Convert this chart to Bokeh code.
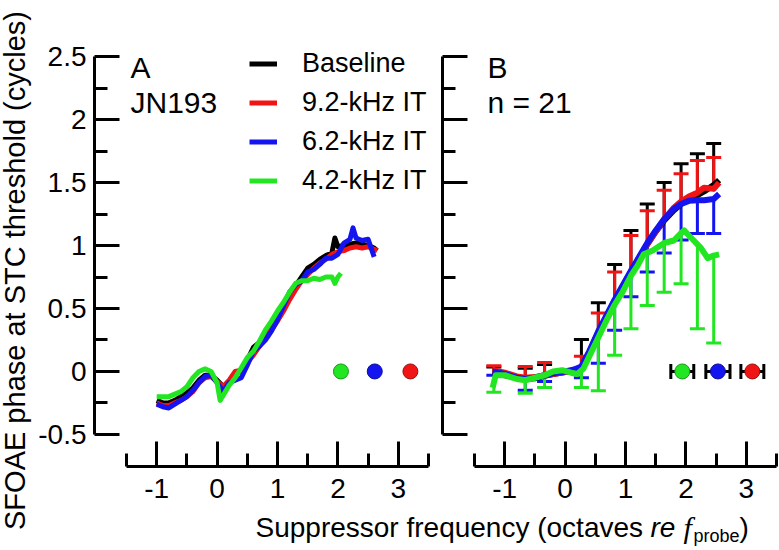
import numpy as np
from math import pi
from bokeh.plotting import figure
from bokeh.models import (Range1d, FixedTicker, Legend, LegendItem, Label,
                          Whisker, TeeHead, ColumnDataSource)
from bokeh.layouts import column, row
from bokeh.embed import file_html
from bokeh.resources import INLINE

# ---------------- data ----------------
SERIES_NAMES = ["Baseline", "9.2-kHz IT", "6.2-kHz IT", "4.2-kHz IT"]

A_base_x = [-1.0, -0.9, -0.8, -0.7, -0.6, -0.5, -0.4, -0.3, -0.2, -0.1, 0.0, 0.1, 0.2, 0.3, 0.4,
            0.5, 0.6, 0.7, 0.8, 0.9, 1.0, 1.1, 1.2, 1.3, 1.4, 1.5, 1.6, 1.7, 1.8, 1.9, 1.95, 2.0,
            2.1, 2.2, 2.3, 2.4, 2.5, 2.6, 2.65]
A_base_y = [-0.23, -0.25, -0.25, -0.23, -0.20, -0.17, -0.13, -0.07, -0.03, -0.03, -0.07, -0.12,
            -0.09, -0.03, 0.01, 0.09, 0.19, 0.23, 0.28, 0.35, 0.43, 0.52, 0.60, 0.68, 0.75, 0.82,
            0.85, 0.89, 0.92, 0.94, 1.06, 0.99, 1.00, 1.01, 1.02, 1.01, 1.00, 0.98, 0.96]

A_red_x = [-1.0, -0.9, -0.8, -0.7, -0.6, -0.5, -0.4, -0.3, -0.2, -0.1, 0.0, 0.1, 0.2, 0.3, 0.4,
           0.5, 0.6, 0.7, 0.8, 0.9, 1.0, 1.1, 1.2, 1.3, 1.4, 1.5, 1.6, 1.7, 1.8, 1.9, 2.0, 2.1,
           2.2, 2.3, 2.4, 2.5, 2.6, 2.65]
A_red_y = [-0.25, -0.27, -0.27, -0.25, -0.23, -0.20, -0.16, -0.09, -0.05, -0.04, -0.08, -0.12,
           -0.07, 0.00, 0.01, 0.07, 0.13, 0.20, 0.27, 0.33, 0.40, 0.48, 0.57, 0.65, 0.72, 0.77,
           0.82, 0.86, 0.89, 0.93, 0.95, 0.96, 0.98, 0.99, 0.98, 0.99, 0.97, 0.96]

A_blue_x = [-1.0, -0.9, -0.8, -0.7, -0.6, -0.5, -0.4, -0.3, -0.2, -0.1, 0.0, 0.1, 0.2, 0.3, 0.4,
            0.5, 0.6, 0.7, 0.8, 0.9, 1.0, 1.1, 1.2, 1.3, 1.4, 1.5, 1.6, 1.7, 1.8, 1.9, 2.0, 2.1,
            2.2, 2.25, 2.3, 2.4, 2.5, 2.6]
A_blue_y = [-0.26, -0.28, -0.29, -0.26, -0.23, -0.20, -0.15, -0.09, -0.04, -0.03, -0.09, -0.16,
            -0.09, -0.07, -0.05, 0.05, 0.16, 0.20, 0.25, 0.32, 0.41, 0.52, 0.63, 0.69, 0.72, 0.79,
            0.81, 0.85, 0.90, 0.90, 0.93, 1.02, 1.05, 1.14, 1.06, 1.04, 1.05, 0.91]

A_green_x = [-1.0, -0.9, -0.8, -0.7, -0.6, -0.5, -0.4, -0.3, -0.2, -0.1, 0.0, 0.05, 0.1, 0.2, 0.3,
             0.4, 0.5, 0.6, 0.7, 0.8, 0.9, 1.0, 1.1, 1.2, 1.3, 1.4, 1.5, 1.6, 1.7, 1.8, 1.9, 1.95,
             2.0, 2.05]
A_green_y = [-0.20, -0.20, -0.20, -0.18, -0.16, -0.12, -0.05, 0.00, 0.02, 0.00, -0.09, -0.23,
             -0.19, -0.11, -0.05, 0.03, 0.11, 0.16, 0.24, 0.33, 0.40, 0.48, 0.55, 0.63, 0.70,
             0.72, 0.72, 0.74, 0.73, 0.75, 0.75, 0.70, 0.75, 0.78]

A_dot_x = [2.05, 2.61, 3.2]
A_dot_y = [0.0, 0.0, 0.0]

B_x = [-1.2, -1.0, -0.8, -0.66, -0.5, -0.34, -0.2, 0.0, 0.15, 0.27, 0.4, 0.55, 0.7, 0.82, 0.95,
       1.09, 1.2, 1.36, 1.5, 1.64, 1.8, 1.92, 2.05, 2.19, 2.3, 2.46, 2.55]
B_base_y = [-0.01, -0.03, -0.05, -0.06, -0.055, -0.035, -0.02, -0.005, 0.01, 0.03, 0.15, 0.31,
            0.45, 0.56, 0.67, 0.79, 0.88, 1.01, 1.11, 1.20, 1.28, 1.33, 1.37, 1.40, 1.43, 1.48, 1.52]
B_red_y = [0.01, -0.01, -0.04, -0.05, -0.045, -0.03, -0.02, -0.005, 0.01, 0.03, 0.15, 0.31,
           0.45, 0.56, 0.67, 0.79, 0.88, 1.01, 1.11, 1.21, 1.30, 1.35, 1.39, 1.42, 1.46, 1.45, 1.50]
B_blue_y = [0.0, -0.02, -0.05, -0.06, -0.05, -0.03, -0.015, 0.0, 0.015, 0.04, 0.16, 0.32,
            0.46, 0.57, 0.68, 0.80, 0.89, 1.02, 1.12, 1.21, 1.29, 1.33, 1.355, 1.36, 1.36, 1.37, 1.41]
B_green_x = [-1.2, -1.15, -1.0, -0.8, -0.66, -0.5, -0.34, -0.2, -0.05, 0.1, 0.2, 0.3, 0.4, 0.55,
             0.7, 0.82, 0.95, 1.09, 1.2, 1.3, 1.45, 1.64, 1.8, 1.92, 1.97, 2.05, 2.13, 2.25, 2.36,
             2.46, 2.55]
B_green_y = [-0.13, -0.03, -0.03, -0.06, -0.07, -0.05, -0.03, 0.0, 0.01, -0.01, -0.02, 0.02,
             0.12, 0.27, 0.42, 0.53, 0.63, 0.76, 0.84, 0.93, 0.96, 1.02, 1.04, 1.10, 1.12, 1.08,
             1.04, 0.98, 0.90, 0.92, 0.93]

B_err_x = [-1.18, -0.66, -0.34, 0.27, 0.55, 0.82, 1.09, 1.36, 1.64, 1.92, 2.19, 2.46]
B_base_err_top = [0.035, 0.025, 0.055, 0.253, 0.545, 0.85, 1.12, 1.33, 1.50, 1.65, 1.73, 1.81]
B_red_err_top = [0.045, 0.04, 0.072, 0.12, 0.465, 0.79, 1.08, 1.277, 1.44, 1.57, 1.676, 1.70]
B_blue_err_bot = [-0.03, -0.15, -0.08, -0.05, 0.066, 0.327, 0.593, 0.79, 0.94, 1.045, 1.096, 1.096]
B_green_err_bot = [-0.165, -0.173, -0.128, -0.128, -0.154, 0.128, 0.34, 0.524, 0.63, 0.697, 0.34, 0.226]

B_dot_x = [1.94, 2.53, 3.1]
B_dot_y = [0.0, 0.0, 0.0]
B_dot_err = [0.19, 0.20, 0.19]

X_TICKS = [-1, 0, 1, 2, 3]
X_TICK_LABELS = ["-1", "0", "1", "2", "3"]
X_MINOR = [-1.5, -0.5, 0.5, 1.5, 2.5, 3.5]
Y_TICKS = [-0.5, 0, 0.5, 1, 1.5, 2, 2.5]
Y_TICK_LABELS = ["-0.5", "0", "0.5", "1", "1.5", "2", "2.5"]
Y_MINOR = [-0.25, 0.25, 0.75, 1.25, 1.75, 2.25]

Y_TITLE = "SFOAE phase at STC threshold (cycles)"

# ---------------- style / geometry ----------------
BLACK, RED, BLUE, GREEN = "#000000", "#f01414", "#1414f0", "#22e622"
DOT_EDGE = ["#159915", "#0c0c99", "#991010"]
FONT = "Liberation Sans"

FW, FH = 337, 454
TOP, BOT = 12, 44
X0 = -2.03
X1 = X0 + FW / 60.4
Y0 = -0.755
Y1 = Y0 + FH / 125.9
YT_W = 34
A_LEFT, A_RIGHT = 60, 7
B_LEFT = 4
XT_H = 36
PANEL_H = TOP + FH + BOT
ROW_W = A_LEFT + FW + A_RIGHT + B_LEFT + FW


def make_panel(min_left, min_right, labels_on_y):
    p = figure(frame_width=FW, frame_height=FH, x_range=Range1d(X0, X1), y_range=Range1d(Y0, Y1),
               output_backend="svg", toolbar_location=None,
               min_border_left=min_left, min_border_right=min_right,
               min_border_top=TOP, min_border_bottom=BOT)
    p.outline_line_color = None
    p.grid.visible = False
    xa, ya = p.xaxis[0], p.yaxis[0]
    for ax in (xa, ya):
        ax.axis_line_width = 3
        ax.axis_line_color = "black"
        ax.major_tick_line_width = 3
        ax.minor_tick_line_width = 3
        ax.major_tick_line_color = "black"
        ax.minor_tick_line_color = "black"
        ax.major_tick_out = 0
        ax.minor_tick_out = 0
        ax.major_tick_in = 25
        ax.minor_tick_in = 13
        ax.major_label_text_font = FONT
        ax.major_label_text_font_size = "28px"
        ax.major_label_text_color = "black"
    xa.ticker = FixedTicker(ticks=X_TICKS, minor_ticks=X_MINOR)
    xa.bounds = (-1.5, 3.5)
    xa.major_label_overrides = {t: s for t, s in zip(X_TICKS, X_TICK_LABELS)}
    xa.major_label_standoff = 12
    ya.ticker = FixedTicker(ticks=Y_TICKS, minor_ticks=Y_MINOR)
    ya.bounds = (-0.5, 2.5)
    if labels_on_y:
        ya.major_label_overrides = {t: s for t, s in zip(Y_TICKS, Y_TICK_LABELS)}
        ya.major_label_standoff = 8
    else:
        ya.major_label_overrides = {t: "" for t in Y_TICKS}
        ya.major_label_standoff = 0
    return p


# ---------------- panel A ----------------
pA = make_panel(A_LEFT, A_RIGHT, True)
rA = []
for xs, ys, c in [(A_base_x, A_base_y, BLACK), (A_red_x, A_red_y, RED),
                  (A_blue_x, A_blue_y, BLUE), (A_green_x, A_green_y, GREEN)]:
    rA.append(pA.line(xs, ys, line_color=c, line_width=5, line_join="round"))

srcAd = ColumnDataSource(dict(x=A_dot_x, y=A_dot_y, fc=[GREEN, BLUE, RED], lc=DOT_EDGE))
pA.scatter("x", "y", source=srcAd, size=15, fill_color="fc", line_color="lc", line_width=1)

leg = Legend(items=[LegendItem(label=n, renderers=[r]) for n, r in zip(SERIES_NAMES, rA)],
             location=(155, 266), orientation="vertical",
             glyph_width=28, glyph_height=39, label_height=39, label_standoff=25,
             spacing=0, padding=0, margin=0,
             border_line_alpha=0, background_fill_alpha=0,
             label_text_font=FONT, label_text_font_size="27px", label_text_color="black")
pA.add_layout(leg)

pA.add_layout(Label(x=36, y=383, x_units="screen", y_units="screen", text="A",
                    text_font=FONT, text_font_size="30px", text_color="black"))
pA.add_layout(Label(x=36, y=348, x_units="screen", y_units="screen", text="JN193",
                    text_font=FONT, text_font_size="30px", text_color="black"))

# ---------------- panel B ----------------
pB = make_panel(B_LEFT, 0, False)


def add_bars(p, xs_line, ys_line, ends, color, up):
    base_vals = np.interp(B_err_x, xs_line, ys_line)
    head = TeeHead(size=15, line_color=color, line_width=3)
    if up:
        src = ColumnDataSource(dict(base=B_err_x, lower=base_vals, upper=ends))
        w = Whisker(source=src, base="base", lower="lower", upper="upper",
                    line_color=color, line_width=3, level="underlay",
                    upper_head=head, lower_head=None)
    else:
        src = ColumnDataSource(dict(base=B_err_x, lower=ends, upper=base_vals))
        w = Whisker(source=src, base="base", lower="lower", upper="upper",
                    line_color=color, line_width=3, level="underlay",
                    lower_head=head, upper_head=None)
    p.add_layout(w)


add_bars(pB, B_x, B_base_y, B_base_err_top, BLACK, True)
add_bars(pB, B_x, B_red_y, B_red_err_top, RED, True)
add_bars(pB, B_x, B_blue_y, B_blue_err_bot, BLUE, False)
add_bars(pB, B_green_x, B_green_y, B_green_err_bot, GREEN, False)

for xs, ys, c in [(B_x, B_base_y, BLACK), (B_x, B_red_y, RED),
                  (B_x, B_blue_y, BLUE), (B_green_x, B_green_y, GREEN)]:
    pB.line(xs, ys, line_color=c, line_width=6, line_join="round")

srcBd = ColumnDataSource(dict(x=B_dot_x, y=B_dot_y,
                              lo=list(np.array(B_dot_x) - np.array(B_dot_err)),
                              hi=list(np.array(B_dot_x) + np.array(B_dot_err)),
                              fc=[GREEN, BLUE, RED], lc=DOT_EDGE))
pB.add_layout(Whisker(source=srcBd, base="y", lower="lo", upper="hi", dimension="width",
                      line_color="black", line_width=3,
                      lower_head=TeeHead(size=15, line_color="black", line_width=3),
                      upper_head=TeeHead(size=15, line_color="black", line_width=3)))
pB.scatter("x", "y", source=srcBd, size=15, fill_color="fc", line_color="lc", line_width=1)

pB.add_layout(Label(x=45, y=383, x_units="screen", y_units="screen", text="B",
                    text_font=FONT, text_font_size="30px", text_color="black"))
pB.add_layout(Label(x=45, y=348, x_units="screen", y_units="screen", text="n = 21",
                    text_font=FONT, text_font_size="30px", text_color="black"))


def text_strip(w, h):
    s = figure(width=w, height=h, x_range=Range1d(0, w), y_range=Range1d(0, h),
               output_backend="svg", toolbar_location=None, min_border=0,
               x_axis_location=None, y_axis_location=None)
    s.grid.visible = False
    s.outline_line_color = None
    return s


# shared x-axis title (anchors are the vertical middles of each piece)
pX = text_strip(ROW_W, XT_H)
pieces = [
    (221, 18.7, "Suppressor frequency (octaves", FONT, "normal", "28px"),
    (616, 18.7, "re", FONT, "italic", "28px"),
    (649, 19.1, "f", "Liberation Serif", "italic", "30px"),
    (659, 10.2, "probe", FONT, "normal", "18px"),
    (705, 18.7, ")", FONT, "normal", "28px"),
]
for x, y, t, f, st, sz in pieces:
    pX.add_layout(Label(x=x, y=y, text=t, text_font=f, text_font_style=st,
                        text_font_size=sz, text_color="black", text_baseline="middle"))

# y-axis title spanning the full height
TOTAL_H = PANEL_H + XT_H
pY = text_strip(YT_W, TOTAL_H)
pY.add_layout(Label(x=14, y=TOTAL_H - 270, text=Y_TITLE, angle=pi / 2,
                    text_font=FONT, text_font_size="29px", text_color="black",
                    text_align="center", text_baseline="middle"))

layout = row(pY, column(row(pA, pB), pX))
open("out.html", "w").write(file_html(layout, INLINE))
